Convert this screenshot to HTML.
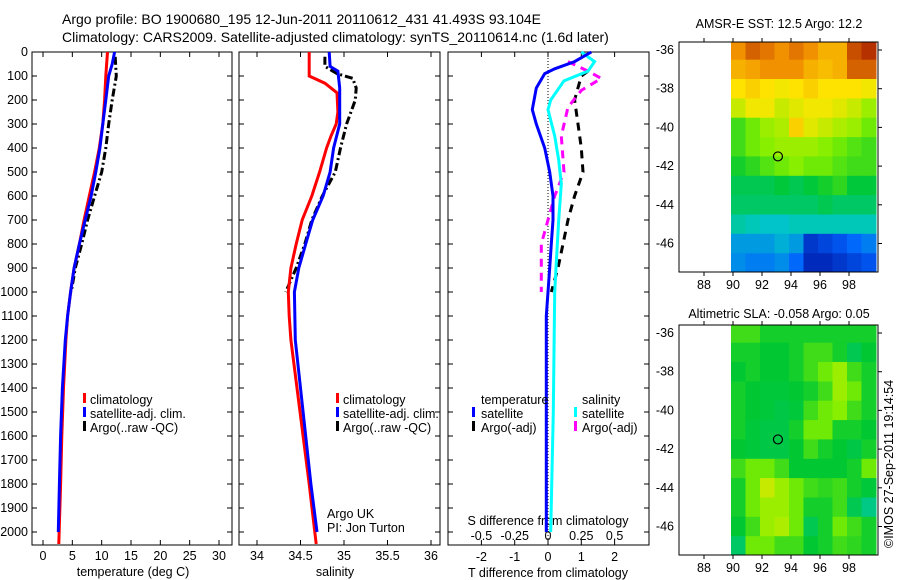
<!DOCTYPE html>
<html><head><meta charset="utf-8">
<style>
html,body{margin:0;padding:0;background:#fff;}
svg{display:block;font-family:"Liberation Sans",sans-serif;}
text{font-size:12.5px;fill:#000;}
</style></head>
<body>
<svg id="fig" xmlns="http://www.w3.org/2000/svg" width="900" height="580" viewBox="0 0 900 580">
<text x="62" y="24" style="font-size:14px">Argo profile: BO 1900680_195 12-Jun-2011 20110612_431 41.493S 93.104E</text>
<text x="62" y="42" style="font-size:14px">Climatology: CARS2009. Satellite-adjusted climatology: synTS_20110614.nc (1.6d later)</text>
<text x="779" y="28" text-anchor="middle">AMSR-E SST: 12.5 Argo: 12.2</text>
<text x="779" y="318" text-anchor="middle">Altimetric SLA: -0.058 Argo: 0.05</text>
<text transform="translate(893,548) rotate(-90)">©IMOS 27-Sep-2011 19:14:54</text>
</svg>
<script>
// ---------- data ----------
const depthTicks = [0,100,200,300,400,500,600,700,800,900,1000,1100,1200,1300,1400,1500,1600,1700,1800,1900,2000];
const tempTicks = [0,5,10,15,20,25,30];
const salTicks = [34,34.5,35,35.5,36];
const salTickLabels = ["34","34.5","35","35.5","36"];
const tdiffTicks = [-2,-1,0,1,2];
const sdiffTicks = [-0.5,-0.25,0,0.25,0.5];
const sdiffTickLabels = ["-0.5","-0.25","0","0.25","0.5"];

const tClimDepth = [0,100,200,300,400,500,600,700,800,900,1000,1100,1200,1400,1600,1800,2050];
const tClim      = [11,10.7,10.5,10.2,9.6,8.8,7.9,7.0,6.2,5.3,4.7,4.2,3.9,3.5,3.2,3.0,2.7];
const tSatDepth  = [0,50,100,200,300,400,500,600,700,800,900,1000,1100,1200,1400,1600,1800,2000];
const tSat       = [12.2,11.8,11.2,10.7,10.2,9.7,9.0,8.2,7.2,6.2,5.3,4.7,4.2,3.8,3.3,3.0,2.8,2.6];
const tArgoDepth = [20,100,200,300,400,500,600,700,800,900,1000];
const tArgo      = [12.3,12.5,11.8,11.2,10.7,10.0,8.8,7.6,6.6,5.5,4.8];

const sClimDepth = [0,50,100,130,170,250,300,350,400,500,600,700,800,900,1000,1100,1200,1400,1600,1800,2050];
const sClim      = [34.6,34.6,34.6,34.78,34.92,34.93,34.91,34.85,34.8,34.72,34.63,34.52,34.45,34.39,34.36,34.37,34.39,34.46,34.53,34.6,34.68];
const sSatDepth  = [0,60,80,150,300,400,500,600,700,800,900,1000,1200,1400,1600,1800,2000];
const sSat       = [34.83,34.84,34.93,34.95,34.95,34.88,34.84,34.76,34.64,34.56,34.48,34.43,34.44,34.5,34.56,34.62,34.69];
const sArgoDepth = [20,60,90,110,150,200,300,400,500,600,700,800,900,1000];
const sArgo      = [34.78,34.78,34.92,35.1,35.14,35.13,35.03,34.96,34.9,34.75,34.63,34.55,34.45,34.33];

const dtSatDepth = [0,40,70,90,150,240,300,400,500,600,700,800,900,1000,1100,1300,1600,2000];
const dtSat      = [1.3,0.8,0.2,-0.1,-0.35,-0.47,-0.35,-0.1,0.05,0.15,0.15,0.1,0.05,0,-0.05,-0.05,-0.05,-0.05];
const dsSatDepth = [0,40,80,120,200,240,350,450,550,700,900,1000,1500,2000];
const dsSat      = [0.25,0.35,0.3,0.12,0.02,0,0.05,0.08,0.1,0.08,0.06,0.05,0.04,0.02];
const dtArgoDepth= [80,100,200,300,400,500,600,700,800,900,1000];
const dtArgo     = [1.2,1.0,0.8,0.9,1.0,1.05,0.8,0.6,0.45,0.3,0.1];
const dsArgoDepth= [40,80,110,160,230,350,500,600,800,1000];
const dsArgo     = [0.15,0.3,0.4,0.25,0.15,0.1,0.12,0.05,-0.05,-0.05];

const mapLons = [90,91,92,93,94,95,96,97,98,99];
const mapLats = [-36,-37,-38,-39,-40,-41,-42,-43,-44,-45,-46,-47];
const mapLonTicks = [88,90,92,94,96,98];
const mapLatTicks = [-36,-38,-40,-42,-44,-46];
const argoLon = 93.1, argoLat = -41.5;
const sstGrid = [
[.85,.9,.88,.85,.88,.85,.8,.8,.92,.95],
[.8,.82,.85,.85,.85,.8,.78,.8,.9,.9],
[.72,.75,.72,.7,.72,.75,.72,.72,.72,.7],
[.65,.7,.7,.65,.68,.7,.7,.68,.65,.6],
[.5,.55,.6,.62,.75,.68,.65,.62,.6,.55],
[.5,.55,.58,.6,.6,.6,.58,.55,.52,.5],
[.45,.48,.52,.55,.58,.55,.55,.52,.5,.5],
[.4,.4,.4,.42,.4,.42,.45,.48,.42,.42],
[.38,.38,.38,.38,.38,.38,.4,.38,.38,.38],
[.32,.3,.28,.28,.3,.3,.3,.3,.3,.3],
[.22,.22,.22,.25,.22,.08,.1,.12,.15,.18],
[.2,.18,.18,.2,.15,.06,.06,.08,.1,.12]];
const slaGrid = [
[.5,.5,.45,.45,.45,.45,.45,.45,.45,.45],
[.45,.45,.43,.43,.45,.5,.5,.45,.4,.43],
[.43,.45,.43,.43,.45,.5,.55,.6,.5,.45],
[.45,.43,.42,.42,.43,.45,.5,.6,.55,.45],
[.45,.43,.42,.41,.42,.5,.55,.58,.5,.45],
[.45,.42,.41,.41,.45,.55,.55,.45,.45,.43],
[.43,.42,.41,.41,.43,.5,.45,.43,.41,.45],
[.5,.55,.55,.5,.43,.43,.43,.43,.45,.55],
[.45,.55,.65,.6,.55,.5,.48,.5,.45,.42],
[.45,.55,.6,.6,.55,.45,.45,.5,.4,.35],
[.43,.5,.6,.62,.55,.4,.45,.55,.5,.45],
[.38,.55,.55,.5,.5,.43,.45,.5,.48,.45]];

// ---------- helpers ----------
const NS = "http://www.w3.org/2000/svg";
const svg = document.getElementById('fig');
function mk(tag, attrs, parent){
  const e = document.createElementNS(NS, tag);
  for (const k in attrs) e.setAttribute(k, attrs[k]);
  (parent||svg).appendChild(e);
  return e;
}
const TOP = 52, BOT = 545;
const yD = d => TOP + d * (532 - 52) / 2000;
const P1 = {x0:32, x1:232}, P2 = {x0:239, x1:440}, P3 = {x0:448, x1:649};
const xT = v => 43 + v * (219 - 43) / 30;
const xS = v => 257 + (v - 34) * 87;
const xDT = v => 548 + v * 33.3;
const xDS = v => 548 + v / 0.25 * 33.3;

function profile(xs, ds, xf, color, dash, name){
  let p = '';
  for (let i = 0; i < xs.length; i++) p += (i ? 'L' : 'M') + xf(xs[i]).toFixed(1) + ' ' + yD(ds[i]).toFixed(1);
  const e = mk('path', {d:p, fill:'none', stroke:color, 'stroke-width':3, 'stroke-dasharray':dash||'none'});
  
  
}
function panelBox(P, name){
  const r = mk('rect', {x:P.x0, y:TOP, width:P.x1-P.x0, height:BOT-TOP, fill:'none', stroke:'#000', 'stroke-width':1});
  
  
  depthTicks.forEach(d => {
    const t1 = mk('line', {x1:P.x0, x2:P.x0+5, y1:yD(d), y2:yD(d), stroke:'#000'});
    
    
    const t2 = mk('line', {x1:P.x1-5, x2:P.x1, y1:yD(d), y2:yD(d), stroke:'#000'});
    
    
  });
}
function xTicks(P, ticks, labels, xf, ly, name){
  ticks.forEach((v, i) => {
    const x = xf(v);
    const a = mk('line', {x1:x, x2:x, y1:TOP, y2:TOP+5, stroke:'#000'});
    
    
    const b = mk('line', {x1:x, x2:x, y1:BOT-5, y2:BOT, stroke:'#000'});
    
    
    const t = mk('text', {x:x, y:ly, 'text-anchor':'middle'});
    t.textContent = labels[i];
    
    
  });
}
function label(x, y, s, name, anchor){
  const t = mk('text', {x:x, y:y, 'text-anchor':anchor||'start'});
  t.textContent = s;
  
  
}
function legBar(x, y, color, name){
  const r = mk('rect', {x:x, y:y-10, width:3, height:10, fill:color});
  
  
}

// ---------- panel 1 : temperature ----------
panelBox(P1, 'temperature-panel');
depthTicks.forEach(d => label(28, yD(d)+4, String(d), 'depth-tick-label', 'end'));
xTicks(P1, tempTicks, tempTicks.map(String), xT, 560, 'temperature-axis');
label(133, 576, 'temperature (deg C)', 'temperature-axis-title', 'middle');
profile(tArgo, tArgoDepth, xT, '#000', '8,3,2,3', 'temperature-argo-line');
profile(tClim, tClimDepth, xT, '#ff0000', null, 'temperature-climatology-line');
profile(tSat, tSatDepth, xT, '#0000ff', null, 'temperature-satellite-line');
legBar(83, 403, '#ff0000', 'legend-climatology-swatch'); label(90, 404, 'climatology', 'legend-climatology');
legBar(83, 417, '#0000ff', 'legend-satellite-swatch'); label(90, 418, 'satellite-adj. clim.', 'legend-satellite');
legBar(83, 431, '#000', 'legend-argo-swatch'); label(90, 432, 'Argo(..raw -QC)', 'legend-argo');

// ---------- panel 2 : salinity ----------
panelBox(P2, 'salinity-panel');
xTicks(P2, salTicks, salTickLabels, xS, 560, 'salinity-axis');
label(335, 576, 'salinity', 'salinity-axis-title', 'middle');
profile(sArgo, sArgoDepth, xS, '#000', '8,3,2,3', 'salinity-argo-line');
profile(sClim, sClimDepth, xS, '#ff0000', null, 'salinity-climatology-line');
profile(sSat, sSatDepth, xS, '#0000ff', null, 'salinity-satellite-line');
legBar(336, 403, '#ff0000', 'legend2-climatology-swatch'); label(343, 404, 'climatology', 'legend2-climatology');
legBar(336, 417, '#0000ff', 'legend2-satellite-swatch'); label(343, 418, 'satellite-adj. clim.', 'legend2-satellite');
legBar(336, 431, '#000', 'legend2-argo-swatch'); label(343, 432, 'Argo(..raw -QC)', 'legend2-argo');
label(327, 518, 'Argo UK', 'argo-uk-label');
label(327, 532, 'PI: Jon Turton', 'pi-label');

// ---------- panel 3 : differences ----------
panelBox(P3, 'difference-panel');
xTicks(P3, tdiffTicks, tdiffTicks.map(String), xDT, 561, 't-diff-axis');
label(548, 577, 'T difference from climatology', 't-diff-axis-title', 'middle');
label(548, 525, 'S difference from climatology', 's-diff-axis-title', 'middle');
sdiffTicks.forEach((v, i) => label(xDS(v), 540, sdiffTickLabels[i], 's-diff-tick-label', 'middle'));
const zl = mk('line', {x1:xDT(0), x2:xDT(0), y1:TOP, y2:BOT, stroke:'#000', 'stroke-dasharray':'1,2'});


profile(dtArgo, dtArgoDepth, xDT, '#000', '8,6', 't-diff-argo-line');
profile(dsArgo, dsArgoDepth, xDS, '#ff00ff', '8,6', 's-diff-argo-line');
profile(dsSat, dsSatDepth, xDS, '#00ffff', null, 's-diff-satellite-line');
profile(dtSat, dtSatDepth, xDT, '#0000ff', null, 't-diff-satellite-line');
label(481, 404, 'temperature', 'legend3-temperature-heading');
legBar(472, 417, '#0000ff', 'legend3-t-satellite-swatch'); label(481, 418, 'satellite', 'legend3-t-satellite');
legBar(472, 431, '#000', 'legend3-t-argo-swatch'); label(481, 432, 'Argo(-adj)', 'legend3-t-argo');
label(582, 404, 'salinity', 'legend3-salinity-heading');
legBar(574, 417, '#00ffff', 'legend3-s-satellite-swatch'); label(582, 418, 'satellite', 'legend3-s-satellite');
legBar(574, 431, '#ff00ff', 'legend3-s-argo-swatch'); label(582, 432, 'Argo(-adj)', 'legend3-s-argo');

// ---------- maps ----------
const stops = [[0,0,140],[0,100,255],[0,200,200],[0,200,50],[130,240,0],[255,230,0],[240,140,0],[150,0,0]];
function cmap(v){
  v = Math.max(0, Math.min(1, v)) * (stops.length - 1);
  const i = Math.min(stops.length - 2, Math.floor(v)), f = v - i;
  const c = stops[i].map((a, k) => Math.round(a + (stops[i+1][k] - a) * f));
  return 'rgb(' + c.join(',') + ')';
}
function drawMap(y0, grid, name){
  const X0 = 679, X1 = 878, Y1 = y0 + 230;
  const xL = lon => 733 + (lon - 90) * 14.5;
  const yL = lat => (y0 + 8) + (-36 - lat) * 19.35;
  grid.forEach((row, r) => row.forEach((v, c) => {
    const lat = mapLats[r], lon = mapLons[c];
    const xa = xL(lon) - 2, xb = Math.min(X1, xL(lon + 1) - 2);
    const ya = Math.max(y0, yL(lat + 0.5)), yb = Math.min(Y1, yL(lat - 0.5));
    const cell = mk('rect', {x:xa.toFixed(1), y:ya.toFixed(1), width:(xb-xa+0.5).toFixed(1), height:(yb-ya+0.5).toFixed(1), fill:cmap(v)});
    
    
  }));
  const b = mk('rect', {x:X0, y:y0, width:X1-X0, height:Y1-y0, fill:'none', stroke:'#000'});
  
  
  mapLonTicks.forEach(lon => {
    const x = xL(lon);
    const t = mk('line', {x1:x, x2:x, y1:Y1, y2:Y1+4, stroke:'#000'});
    
    
    const t2 = mk('line', {x1:x, x2:x, y1:y0-4, y2:y0, stroke:'#000'});
    
    
    label(x, Y1 + 17, String(lon), name + '-lon-label', 'middle');
  });
  mapLatTicks.forEach(lat => {
    const y = yL(lat);
    const t = mk('line', {x1:X1, x2:X1+4, y1:y, y2:y, stroke:'#000'});
    
    
    label(674, y + 4, String(lat), name + '-lat-label', 'end');
  });
  const m = mk('circle', {cx:xL(argoLon), cy:yL(argoLat), r:4.5, fill:'none', stroke:'#000', 'stroke-width':1.2});
  
  
}
drawMap(42, sstGrid, 'sst-map');
drawMap(325, slaGrid, 'sla-map');
</script>
</body></html>
